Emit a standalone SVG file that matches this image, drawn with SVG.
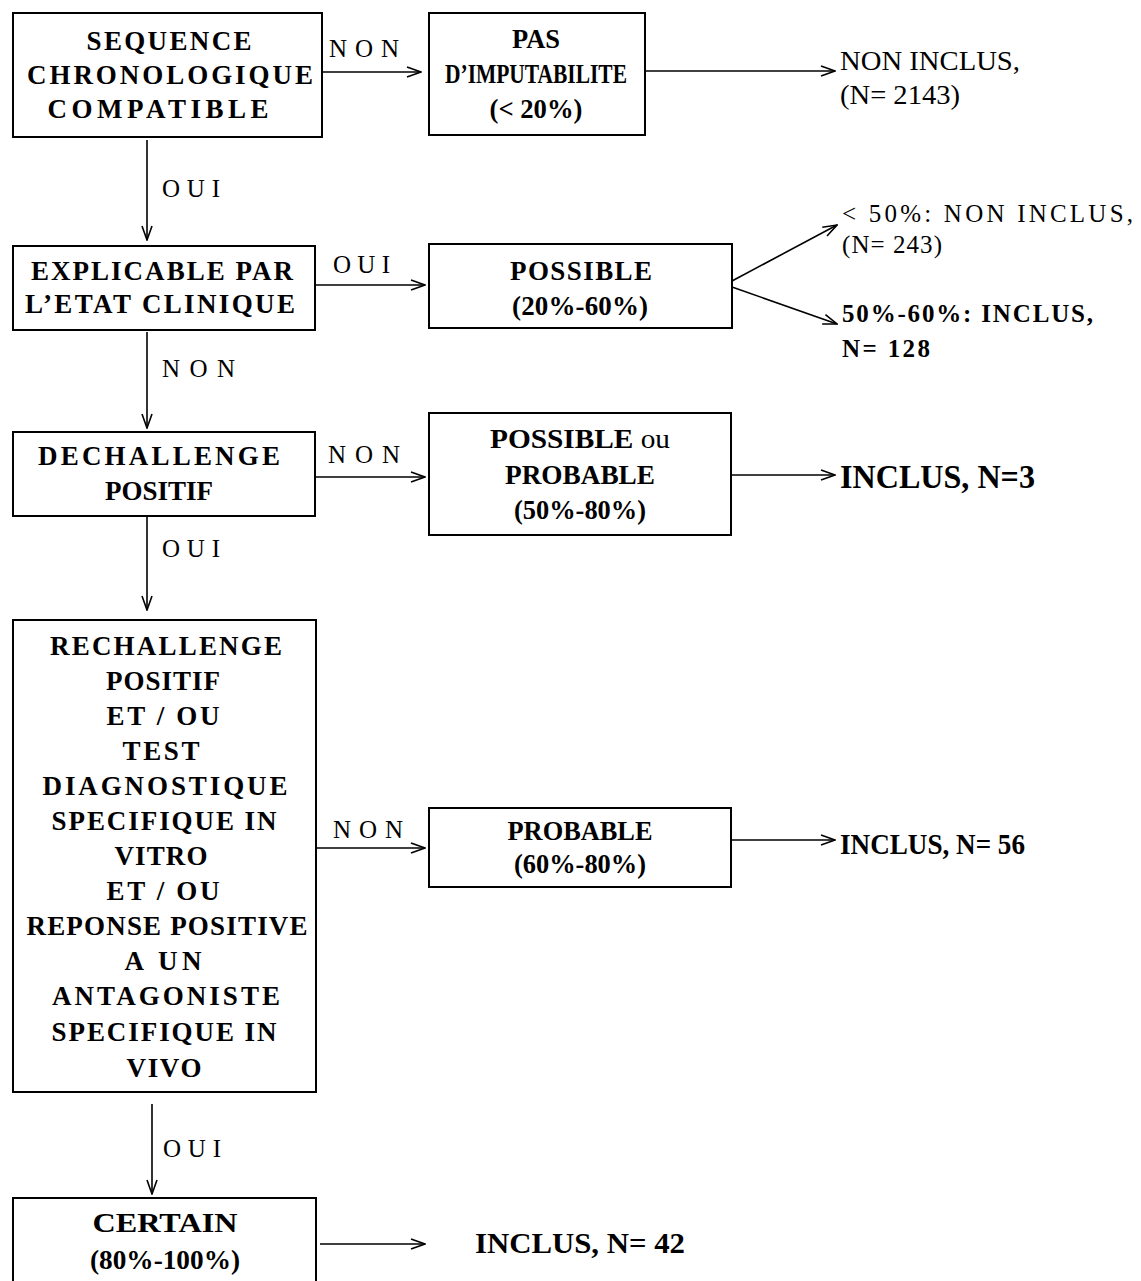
<svg xmlns="http://www.w3.org/2000/svg" width="1141" height="1281" viewBox="0 0 1141 1281">
<style>
.box{fill:#fff;stroke:#000;stroke-width:2}
.t{font-family:"Liberation Serif","Times New Roman",serif;font-size:24px;fill:#000}
.g{font-size:27px}
.k{font-size:27px}
.l{font-size:25px}
.xl{font-size:34px}
.lg{font-size:29px}
.b{font-weight:bold}
.c{text-anchor:middle}
.ln{fill:none;stroke:#000;stroke-width:1.6}
</style>
<defs>
<marker id="ah" viewBox="0 0 16 12" refX="15" refY="6" markerWidth="16" markerHeight="12" markerUnits="userSpaceOnUse" orient="auto">
<path d="M1,1 L15,6 L1,11" fill="none" stroke="#000" stroke-width="1.6"/>
</marker>
</defs>
<rect width="1141" height="1281" fill="#fff"/>

<g id="connectors">
<path class="ln" d="M322,72 H421" marker-end="url(#ah)"/>
<path class="ln" d="M645,71 H835" marker-end="url(#ah)"/>
<path class="ln" d="M147,140 V240" marker-end="url(#ah)"/>
<path class="ln" d="M315,285 H425" marker-end="url(#ah)"/>
<path class="ln" d="M732,281 L837,225" marker-end="url(#ah)"/>
<path class="ln" d="M732,287 L837,324" marker-end="url(#ah)"/>
<path class="ln" d="M147,332 V428" marker-end="url(#ah)"/>
<path class="ln" d="M315,477 H425" marker-end="url(#ah)"/>
<path class="ln" d="M731,475 H835" marker-end="url(#ah)"/>
<path class="ln" d="M147,517 V610" marker-end="url(#ah)"/>
<path class="ln" d="M316,848 H425" marker-end="url(#ah)"/>
<path class="ln" d="M731,840 H835" marker-end="url(#ah)"/>
<path class="ln" d="M152,1104 V1194" marker-end="url(#ah)"/>
<path class="ln" d="M320,1244 H425" marker-end="url(#ah)"/>
<text class="t l" x="329" y="57" textLength="70" lengthAdjust="spacing">NON</text>
<text class="t l" x="162" y="197" textLength="58" lengthAdjust="spacing">OUI</text>
<text class="t l" x="333" y="273" textLength="57" lengthAdjust="spacing">OUI</text>
<text class="t l" x="162" y="377" textLength="73" lengthAdjust="spacing">NON</text>
<text class="t l" x="328" y="463" textLength="72" lengthAdjust="spacing">NON</text>
<text class="t l" x="162" y="557" textLength="58" lengthAdjust="spacing">OUI</text>
<text class="t l" x="333" y="838" textLength="70" lengthAdjust="spacing">NON</text>
<text class="t l" x="163" y="1157" textLength="58" lengthAdjust="spacing">OUI</text>
</g>

<g id="n1">
<rect class="box" x="13" y="13" width="309" height="124"/>
<text class="t g b c" x="169" y="50" textLength="165" lengthAdjust="spacing">SEQUENCE</text>
<text class="t g b c" x="170" y="84" textLength="286" lengthAdjust="spacing">CHRONOLOGIQUE</text>
<text class="t g b c" x="158" y="118" textLength="221" lengthAdjust="spacing">COMPATIBLE</text>
</g>

<g id="n2">
<rect class="box" x="429" y="13" width="216" height="122"/>
<text class="t k b c" x="536" y="48" textLength="48" lengthAdjust="spacingAndGlyphs">PAS</text>
<text class="t k b c" x="536" y="83" textLength="182" lengthAdjust="spacingAndGlyphs">D’IMPUTABILITE</text>
<text class="t k b c" x="536" y="118" textLength="93" lengthAdjust="spacingAndGlyphs">(&lt; 20%)</text>
</g>

<g id="r1">
<text class="t k" x="840" y="70" textLength="180" lengthAdjust="spacingAndGlyphs">NON INCLUS,</text>
<text class="t k" x="840" y="104" textLength="120" lengthAdjust="spacingAndGlyphs">(N= 2143)</text>
</g>

<g id="n3">
<rect class="box" x="13" y="246" width="302" height="84"/>
<text class="t g b c" x="162" y="280" textLength="262" lengthAdjust="spacing">EXPLICABLE PAR</text>
<text class="t g b c" x="160" y="313" textLength="270" lengthAdjust="spacing">L’ETAT CLINIQUE</text>
</g>

<g id="n4">
<rect class="box" x="429" y="244" width="303" height="84"/>
<text class="t g b c" x="581" y="280" textLength="142" lengthAdjust="spacing">POSSIBLE</text>
<text class="t g b c" x="580" y="315" textLength="136" lengthAdjust="spacing">(20%-60%)</text>
</g>

<g id="r2">
<text class="t l" x="842" y="222" textLength="291" lengthAdjust="spacing">&lt; 50%: NON INCLUS,</text>
<text class="t l" x="842" y="253" textLength="100" lengthAdjust="spacing">(N= 243)</text>
</g>

<g id="r3">
<text class="t l b" x="842" y="322" textLength="251" lengthAdjust="spacing">50%-60%: INCLUS,</text>
<text class="t l b" x="842" y="357" textLength="88" lengthAdjust="spacing">N= 128</text>
</g>

<g id="n5">
<rect class="box" x="13" y="432" width="302" height="84"/>
<text class="t g b c" x="159" y="465" textLength="242" lengthAdjust="spacing">DECHALLENGE</text>
<text class="t g b c" x="159" y="500" textLength="108" lengthAdjust="spacing">POSITIF</text>
</g>

<g id="n6">
<rect class="box" x="429" y="413" width="302" height="122"/>
<text class="t k b c" x="580" y="448" textLength="180" lengthAdjust="spacingAndGlyphs">POSSIBLE <tspan font-weight="normal">ou</tspan></text>
<text class="t k b c" x="580" y="484" textLength="150" lengthAdjust="spacingAndGlyphs">PROBABLE</text>
<text class="t k b c" x="580" y="519" textLength="132" lengthAdjust="spacingAndGlyphs">(50%-80%)</text>
</g>

<g id="r4">
<text class="t xl b" x="840" y="488" textLength="195" lengthAdjust="spacingAndGlyphs">INCLUS, N=3</text>
</g>

<g id="n7">
<rect class="box" x="13" y="620" width="303" height="472"/>
<text class="t g b c" x="166" y="655" textLength="232" lengthAdjust="spacing">RECHALLENGE</text>
<text class="t g b c" x="163" y="690" textLength="114" lengthAdjust="spacing">POSITIF</text>
<text class="t g b c" x="163" y="725" textLength="113" lengthAdjust="spacing">ET / OU</text>
<text class="t g b c" x="161" y="760" textLength="77" lengthAdjust="spacing">TEST</text>
<text class="t g b c" x="165" y="795" textLength="245" lengthAdjust="spacing">DIAGNOSTIQUE</text>
<text class="t g b c" x="164" y="830" textLength="225" lengthAdjust="spacing">SPECIFIQUE IN</text>
<text class="t g b c" x="161" y="865" textLength="93" lengthAdjust="spacing">VITRO</text>
<text class="t g b c" x="163" y="900" textLength="113" lengthAdjust="spacing">ET / OU</text>
<text class="t g b c" x="167" y="935" textLength="281" lengthAdjust="spacing">REPONSE POSITIVE</text>
<text class="t g b c" x="163" y="970" textLength="77" lengthAdjust="spacing">A UN</text>
<text class="t g b c" x="166" y="1005" textLength="228" lengthAdjust="spacing">ANTAGONISTE</text>
<text class="t g b c" x="164" y="1041" textLength="225" lengthAdjust="spacing">SPECIFIQUE IN</text>
<text class="t g b c" x="164" y="1077" textLength="75" lengthAdjust="spacing">VIVO</text>
</g>

<g id="n8">
<rect class="box" x="429" y="808" width="302" height="79"/>
<text class="t k b c" x="580" y="840" textLength="145" lengthAdjust="spacingAndGlyphs">PROBABLE</text>
<text class="t k b c" x="580" y="873" textLength="132" lengthAdjust="spacingAndGlyphs">(60%-80%)</text>
</g>

<g id="r5">
<text class="t lg b" x="840" y="854" textLength="185" lengthAdjust="spacingAndGlyphs">INCLUS, N= 56</text>
</g>

<g id="n9">
<rect class="box" x="13" y="1198" width="303" height="99"/>
<text class="t k b c" x="165" y="1232" textLength="145" lengthAdjust="spacingAndGlyphs">CERTAIN</text>
<text class="t k b c" x="165" y="1269" textLength="150" lengthAdjust="spacingAndGlyphs">(80%-100%)</text>
</g>

<g id="r6">
<text class="t lg b" x="475" y="1253" textLength="210" lengthAdjust="spacingAndGlyphs">INCLUS, N= 42</text>
</g>
</svg>
